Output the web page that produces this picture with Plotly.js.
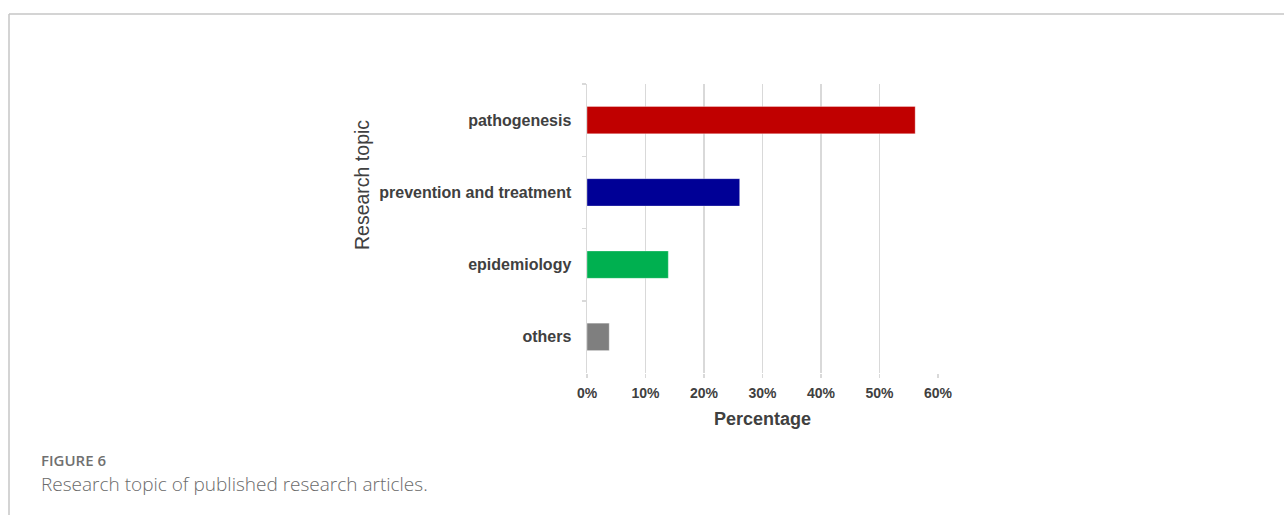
<!DOCTYPE html>
<html>
<head>
<meta charset="utf-8">
<script src="https://cdn.plot.ly/plotly-3.0.1.min.js"></script>
<style>
  html, body { margin: 0; padding: 0; background: #ffffff; }
  #chart { width: 1284px; height: 515px; }
</style>
</head>
<body>
<div id="chart"></div>
<script>
// Research topics and their share of published articles
const topics = ['pathogenesis', 'prevention and treatment', 'epidemiology', 'others'];
const shares = [0.561, 0.261, 0.139, 0.038];
const barColors = ['#c00000', '#000096', '#00b050', '#7f7f7f'];
const xTickValues = [0, 0.1, 0.2, 0.3, 0.4, 0.5, 0.6];
const xTickLabels = ['0%', '10%', '20%', '30%', '40%', '50%', '60%'];

const W = 1284, H = 515;
const px = x => x / W;           // pixel -> paper x
const py = y => (H - y) / H;     // pixel -> paper y

const textColor = '#404040';
const gridColor = '#d9d9d9';
const chartFont = 'Liberation Sans, Arial, sans-serif';

const trace = {
  type: 'bar',
  orientation: 'h',
  y: topics,
  x: shares,
  width: 0.38,
  marker: {
    color: barColors,
    line: { color: 'rgba(255,255,255,0.35)', width: 1 }
  },
  hoverinfo: 'skip'
};

const layout = {
  width: W,
  height: H,
  margin: { l: 0, r: 0, t: 0, b: 0 },
  paper_bgcolor: '#ffffff',
  plot_bgcolor: '#ffffff',
  showlegend: false,
  font: { family: chartFont, color: textColor },
  xaxis: {
    domain: [px(587), px(938)],
    range: [0, 0.6],
    tickvals: xTickValues,
    ticktext: xTickLabels,
    showgrid: true,
    gridcolor: gridColor,
    gridwidth: 1.5,
    zeroline: false,
    showline: false,
    ticks: 'outside',
    ticklen: 4,
    tickcolor: gridColor,
    tickwidth: 1.5,
    ticklabelstandoff: 3,
    tickfont: { size: 14, color: textColor, family: chartFont, weight: 'bold' },
    fixedrange: true
  },
  yaxis: {
    domain: [py(373), py(84)],
    type: 'category',
    categoryorder: 'array',
    categoryarray: topics,
    range: [3.5, -0.5],
    showgrid: false,
    zeroline: false,
    showline: true,
    linecolor: gridColor,
    linewidth: 1.5,
    ticks: 'outside',
    tickson: 'boundaries',
    ticklen: 4,
    tickcolor: gridColor,
    tickwidth: 1.5,
    ticklabelstandoff: 11,
    tickfont: { size: 16, color: textColor, family: chartFont, weight: 'bold' },
    fixedrange: true
  },
  annotations: [
    {
      text: 'Research topic',
      xref: 'paper', yref: 'paper',
      x: px(362), y: py(185),
      xanchor: 'center', yanchor: 'middle',
      textangle: -90,
      showarrow: false,
      font: { size: 19.5, color: textColor, family: chartFont }
    },
    {
      text: '<b>Percentage</b>',
      xref: 'paper', yref: 'paper',
      x: px(762), y: py(419),
      xanchor: 'center', yanchor: 'middle',
      showarrow: false,
      font: { size: 18, color: textColor, family: chartFont }
    },
    {
      text: 'FIGURE 6',
      xref: 'paper', yref: 'paper',
      x: px(39), y: py(460),
      xanchor: 'left', yanchor: 'middle',
      showarrow: false,
      font: { size: 15, color: '#707070', family: 'Open Sans, sans-serif', weight: 600 }
    },
    {
      text: 'Research topic of published research articles.',
      xref: 'paper', yref: 'paper',
      x: px(39), y: py(484),
      xanchor: 'left', yanchor: 'middle',
      showarrow: false,
      font: { size: 19, color: '#6a6a6a', family: 'Open Sans, sans-serif', weight: 300 }
    }
  ],
  shapes: [
    // Figure frame: top and left rules
    {
      type: 'line', xref: 'paper', yref: 'paper',
      x0: px(9), x1: 1, y0: py(14), y1: py(14),
      line: { color: '#c6c6c6', width: 1.5 }
    },
    {
      type: 'line', xref: 'paper', yref: 'paper',
      x0: px(9), x1: px(9), y0: py(14), y1: 0,
      line: { color: '#c6c6c6', width: 1.5 }
    }
  ]
};

Plotly.newPlot('chart', [trace], layout, { displayModeBar: false, staticPlot: true });
</script>
</body>
</html>
